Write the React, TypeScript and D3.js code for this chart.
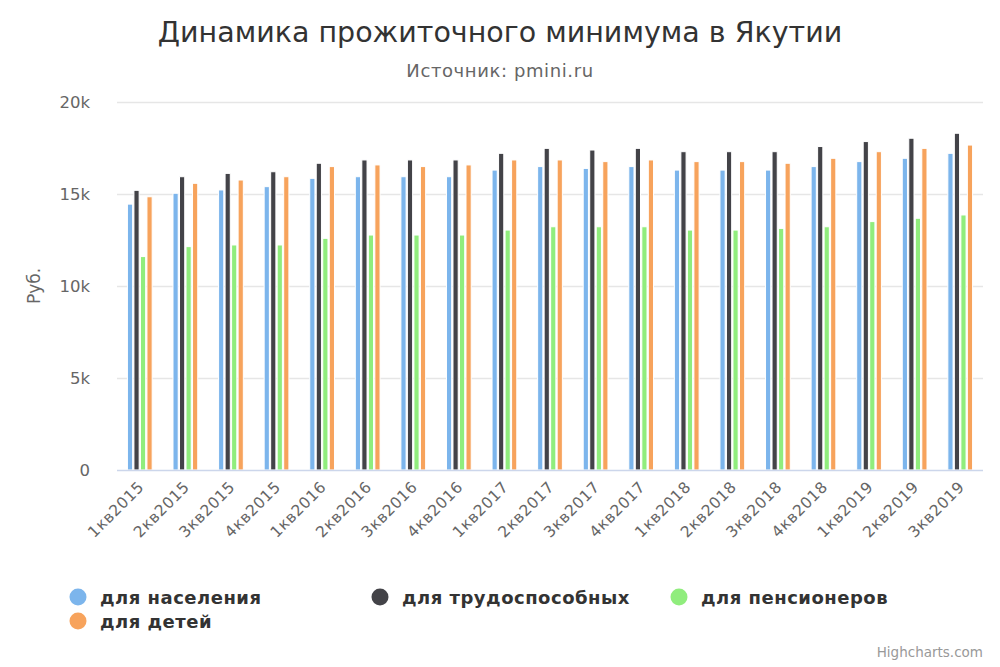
import React from 'react';
import * as d3 from 'd3';

const categories = [
  '1кв2015', '2кв2015', '3кв2015', '4кв2015',
  '1кв2016', '2кв2016', '3кв2016', '4кв2016',
  '1кв2017', '2кв2017', '3кв2017', '4кв2017',
  '1кв2018', '2кв2018', '3кв2018', '4кв2018',
  '1кв2019', '2кв2019', '3кв2019',
];

const population = [14450, 15040, 15220, 15400, 15850, 15940, 15940, 15940, 16300, 16490, 16390, 16490, 16300, 16300, 16300, 16490, 16760, 16940, 17210];
const workers = [15200, 15940, 16120, 16210, 16670, 16850, 16850, 16850, 17210, 17480, 17390, 17480, 17300, 17300, 17300, 17580, 17850, 18030, 18300];
const pensioners = [11600, 12140, 12230, 12230, 12590, 12770, 12770, 12770, 13040, 13220, 13220, 13220, 13040, 13040, 13130, 13220, 13500, 13680, 13860];
const children = [14850, 15580, 15760, 15940, 16490, 16580, 16490, 16580, 16850, 16850, 16760, 16850, 16760, 16760, 16670, 16940, 17300, 17480, 17660];

const seriesNames = ['для населения', 'для трудоспособных', 'для пенсионеров', 'для детей'];
const seriesColors = ['#7cb5ec', '#434348', '#90ed7d', '#f7a35c'];
const seriesData = [population, workers, pensioners, children];

const yTicks = [0, 5000, 10000, 15000, 20000];

const W = 1000;
const H = 667;
const plot = { left: 117, right: 983, top: 102, bottom: 470 };
const font = '"DejaVu Sans", sans-serif';

export default function App() {
  const x = d3.scaleBand<string>()
    .domain(categories)
    .range([plot.left, plot.right])
    .paddingInner(0)
    .paddingOuter(0);
  const inner = d3.scaleBand<number>()
    .domain(d3.range(seriesData.length))
    .range([x.bandwidth() * 0.2, x.bandwidth() * 0.8])
    .padding(0.2);
  const y = d3.scaleLinear().domain([0, 20000]).range([plot.bottom, plot.top]);
  const fmt = (v: number) => (v === 0 ? '0' : `${v / 1000}k`);

  const legendPos = [
    { x: 78, y: 597 },
    { x: 380, y: 597 },
    { x: 679, y: 597 },
    { x: 78, y: 621 },
  ];

  return (
    <div style={{ position: 'absolute', left: 0, top: 0 }}>
      <svg width={W} height={H} style={{ fontFamily: font, display: 'block' }}>
        <rect width={W} height={H} fill="#fff" />
        <text x={500} y={42} textAnchor="middle" fontSize={28.5} fill="#333">
          Динамика прожиточного минимума в Якутии
        </text>
        <text x={500} y={77} textAnchor="middle" fontSize={18} letterSpacing={0.6} fill="#666">
          Источник: pmini.ru
        </text>

        {yTicks.map((t) => (
          <g key={t}>
            {t > 0 && (
              <line x1={plot.left} x2={plot.right} y1={y(t) + 0.5} y2={y(t) + 0.5} stroke="#e6e6e6" strokeWidth={1.5} />
            )}
            <text x={90} y={y(t) + 6} textAnchor="end" fontSize={16.5} fill="#666">
              {fmt(t)}
            </text>
          </g>
        ))}
        <text
          transform={`translate(40,${(plot.top + plot.bottom) / 2}) rotate(-90)`}
          textAnchor="middle"
          fontSize={17}
          fill="#666"
        >
          Руб.
        </text>

        {seriesData.map((vals, si) => (
          <g key={si}>
            {vals.map((v, ci) => (
              <rect
                key={ci}
                x={(x(categories[ci]) ?? 0) + (inner(si) ?? 0)}
                y={y(v)}
                width={inner.bandwidth()}
                height={plot.bottom - y(v)}
                fill={seriesColors[si]}
                stroke="#fff"
                strokeWidth={1}
              />
            ))}
          </g>
        ))}

        <line x1={plot.left} x2={plot.right} y1={plot.bottom + 0.5} y2={plot.bottom + 0.5} stroke="#ccd6eb" strokeWidth={1.5} />

        {categories.map((c) => {
          const cx = (x(c) ?? 0) + x.bandwidth() / 2;
          return (
            <text
              key={c}
              transform={`translate(${cx + 5},${plot.bottom + 18}) rotate(-45)`}
              textAnchor="end"
              fontSize={15.5}
              letterSpacing={0.5}
              fill="#666"
            >
              {c}
            </text>
          );
        })}

        {seriesNames.map((n, i) => (
          <g key={n}>
            <circle cx={legendPos[i].x} cy={legendPos[i].y} r={8.5} fill={seriesColors[i]} />
            <text x={legendPos[i].x + 22} y={legendPos[i].y + 6.5} fontSize={18} letterSpacing={0.5} fontWeight="bold" fill="#333">
              {n}
            </text>
          </g>
        ))}

        <text x={983} y={657} textAnchor="end" fontSize={13.5} fill="#999">
          Highcharts.com
        </text>
      </svg>
    </div>
  );
}
